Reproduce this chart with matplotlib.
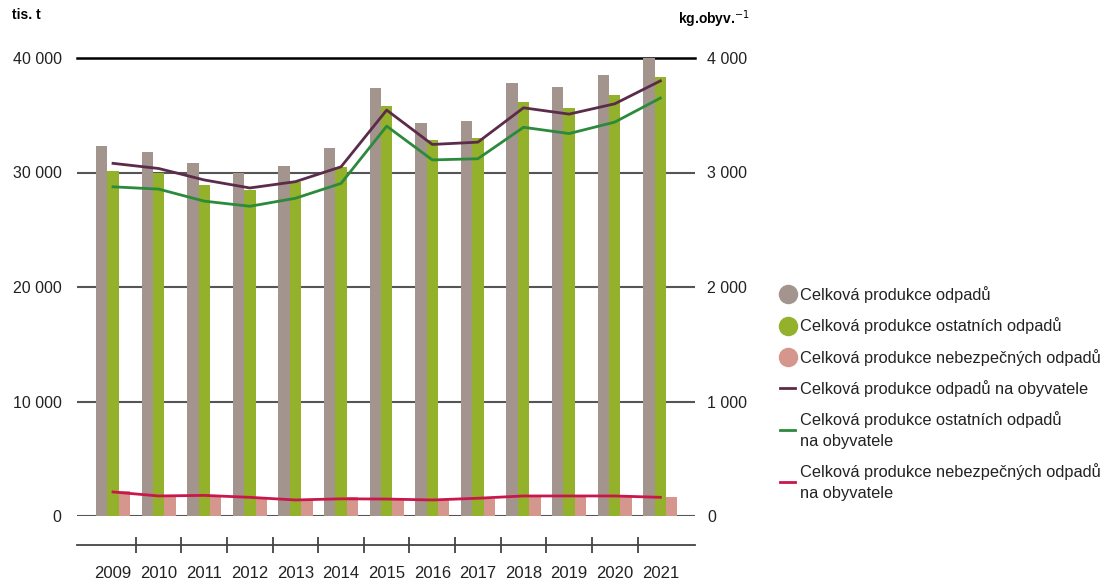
import numpy as np
import matplotlib.pyplot as plt
from matplotlib.lines import Line2D

plt.rcParams['font.family'] = ['Liberation Sans', 'DejaVu Sans']

years = ['2009', '2010', '2011', '2012', '2013', '2014', '2015',
         '2016', '2017', '2018', '2019', '2020', '2021']

# tis. t
total = [32300, 31800, 30800, 30000, 30600, 32100, 37350,
         34300, 34500, 37800, 37500, 38550, 40000]
other = [30150, 30000, 28950, 28450, 29150, 30500, 35850,
         32850, 33050, 36150, 35650, 36750, 38350]
hazard = [2180, 1770, 1830, 1690, 1460, 1630, 1550,
          1400, 1460, 1690, 1750, 1750, 1690]

# kg per inhabitant
total_pc = [3080, 3035, 2935, 2865, 2920, 3050, 3545,
            3245, 3265, 3565, 3510, 3600, 3800]
other_pc = [2875, 2855, 2750, 2705, 2775, 2905, 3405,
            3110, 3120, 3395, 3340, 3440, 3650]
hazard_pc = [210, 175, 180, 163, 140, 150, 148,
             140, 155, 175, 175, 175, 163]

c_total = '#a3948e'
c_other = '#93b12a'
c_haz = '#d4968d'
c_total_pc = '#5b2b4a'
c_other_pc = '#2b8a3c'
c_haz_pc = '#c8174b'

def fmt(v):
    return '{:,}'.format(int(v)).replace(',', ' ')

fig = plt.figure(figsize=(11.09, 5.81), dpi=100)
W, H = 1109, 581
ax = fig.add_axes([77/W, (H-516)/H, (695-77)/W, (516-58)/H])
x = np.arange(len(years))
w = 0.25

ax.bar(x - w, total, w, color=c_total, zorder=3)
ax.bar(x, other, w, color=c_other, zorder=3)
ax.bar(x + w, hazard, w, color=c_haz, zorder=3)

ax.set_xlim(-0.79, 12.76)
ax.set_ylim(0, 40000)
ax.set_yticks(np.arange(0, 40001, 10000))
ax.set_yticklabels([fmt(v) for v in np.arange(0, 40001, 10000)])
ax.tick_params(axis='y', length=0, pad=11, labelsize=11.5, colors='#222222')
ax.grid(axis='y', color='#555555', linewidth=1.5, zorder=0)

for s in ['left', 'right']:
    ax.spines[s].set_visible(False)
ax.spines['top'].set_color('black')
ax.spines['top'].set_linewidth(1.8)
ax.spines['bottom'].set_position(('outward', 21))
ax.spines['bottom'].set_color('#444444')
ax.spines['bottom'].set_linewidth(1.3)

ax.set_xticks(np.arange(0.5, 12, 1))
ax.set_xticklabels([])
ax.set_xticks(x, minor=True)
ax.set_xticklabels(years, minor=True)
ax.tick_params(axis='x', which='major', direction='inout', length=11,
               width=1.3, color='#444444')
ax.tick_params(axis='x', which='minor', length=0, pad=15, labelsize=12,
               labelcolor='#222222')

ax2 = ax.twinx()
ax2.set_ylim(0, 4000)
ax2.set_yticks(np.arange(0, 4001, 1000))
ax2.set_yticklabels([fmt(v) for v in np.arange(0, 4001, 1000)])
ax2.tick_params(axis='y', length=0, pad=9, labelsize=11.5, colors='#222222')
for s in ax2.spines.values():
    s.set_visible(False)

ax2.plot(x, total_pc, color=c_total_pc, linewidth=2)
ax2.plot(x, other_pc, color=c_other_pc, linewidth=2)
ax2.plot(x, hazard_pc, color=c_haz_pc, linewidth=2)

fig.text(12/W, 1 - 15/H, 'tis. t', fontsize=10, fontweight='bold',
         va='center', ha='left')
fig.text(750/W, 1 - 19/H, 'kg.obyv.$^{-1}$', fontsize=10, fontweight='bold',
         va='center', ha='right')

handles = [
    Line2D([], [], linestyle='none', marker='o', markersize=13, color=c_total),
    Line2D([], [], linestyle='none', marker='o', markersize=13, color=c_other),
    Line2D([], [], linestyle='none', marker='o', markersize=13, color=c_haz),
    Line2D([], [], color=c_total_pc, linewidth=2),
    Line2D([], [], color=c_other_pc, linewidth=2),
    Line2D([], [], color=c_haz_pc, linewidth=2),
]
labels = [
    'Celková produkce odpadů',
    'Celková produkce ostatních odpadů',
    'Celková produkce nebezpečných odpadů',
    'Celková produkce odpadů na obyvatele',
    'Celková produkce ostatních odpadů\nna obyvatele',
    'Celková produkce nebezpečných odpadů\nna obyvatele',
]
leg = fig.legend(handles, labels, loc='upper left',
                 bbox_to_anchor=(772/W, 1 - 278/H), frameon=False,
                 fontsize=11.8, handlelength=0.9, handletextpad=0.3,
                 labelspacing=0.87, borderpad=0, labelcolor='#222222')
for t in leg.get_texts():
    t.set_linespacing(1.5)

fig.savefig('out.png', dpi=100)
